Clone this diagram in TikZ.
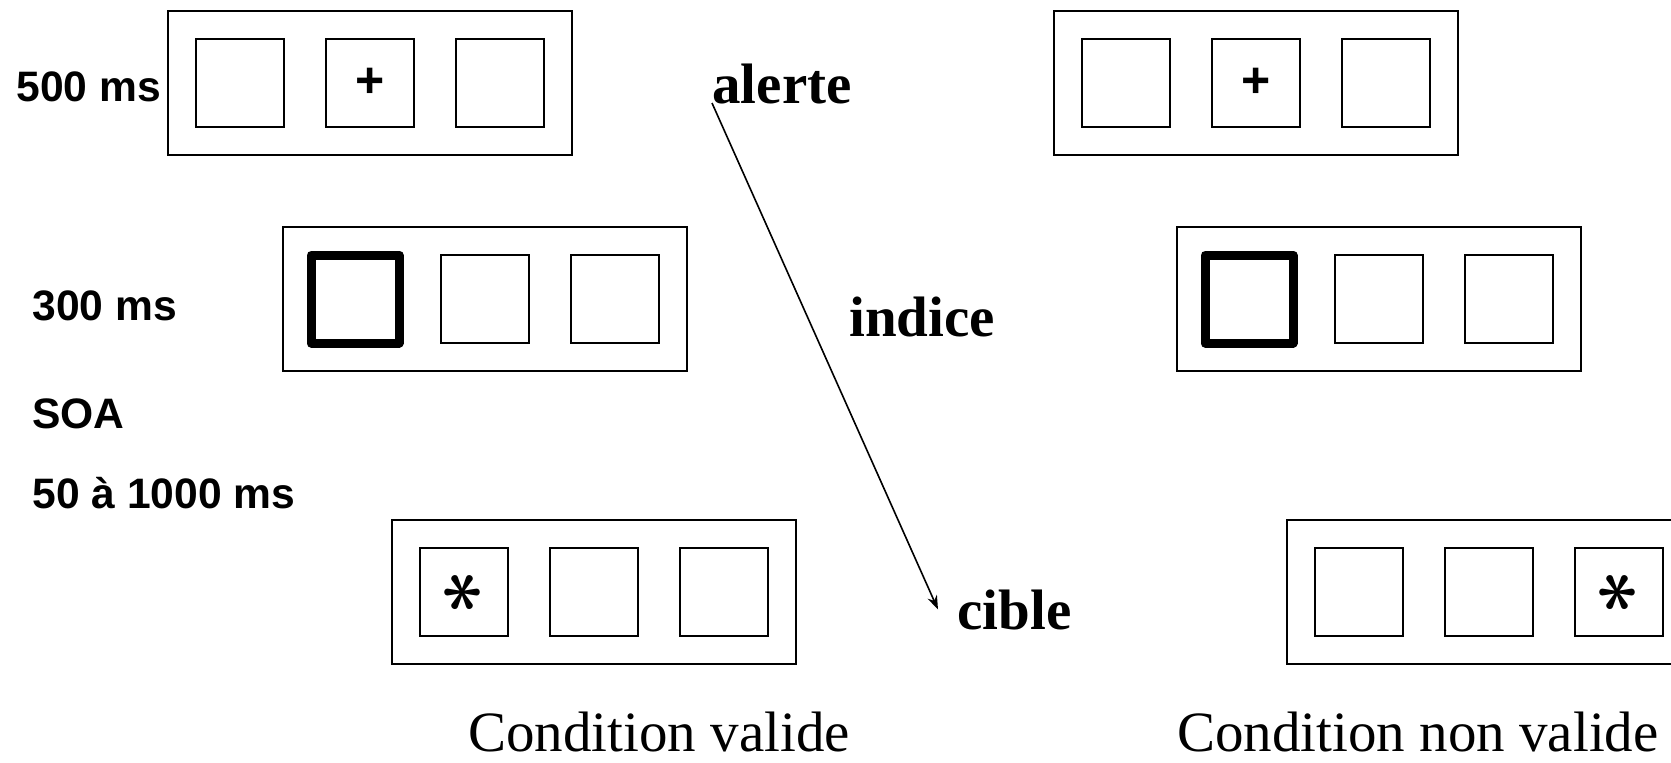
\documentclass[tikz,border=0pt]{standalone}
\usepackage{fontspec}
\setmainfont{Liberation Serif}
\newfontfamily\arialfont{Liberation Sans}
\usepackage{graphicx}
\usetikzlibrary{arrows.meta}

\begin{document}
\begin{tikzpicture}[x=0.5pt,y=-0.5pt,
  frame/.style={draw,line width=1.1pt,minimum width=202pt,minimum height=72pt,inner sep=0pt},
  cell/.style={draw,line width=1.1pt,minimum size=44pt,inner sep=0pt},
  cue/.style={cell,line width=4.5pt,line join=round},
  timelbl/.style={font=\arialfont\bfseries\fontsize{21.3}{25}\selectfont,anchor=base west,inner sep=0pt},
  eventlbl/.style={font=\bfseries\fontsize{28.5}{34}\selectfont,anchor=base west,inner sep=0pt},
  condlbl/.style={font=\fontsize{28.5}{34}\selectfont,anchor=base,inner sep=0pt},
  fixlbl/.style={font=\arialfont\bfseries\fontsize{25}{25}\selectfont,inner sep=0pt}]
  \useasboundingbox (0,0) rectangle (1671,762);
  \clip (0,0) rectangle (1671,762);
  \fill[white] (0,0) rectangle (1671,762);

  % screens: a = valid, b = non valid
  \foreach \f/\x/\y/\s in {a1/370/83/cell,a2/485/299/cue,a3/594/592/cell,
                           b1/1256/83/cell,b2/1379/299/cue,b3/1489/592/cell}{
    \node[frame] (\f) at (\x,\y) {};
    \node[\s] (\f l) at (\x-130,\y) {};
    \node[cell] (\f m) at (\x,\y) {};
    \node[cell] (\f r) at (\x+130,\y) {};
  }

  % fixation and target
  \node[fixlbl] (fixa) at (a1m) {+};
  \node[fixlbl] (fixb) at (b1m) {+};
  \node[rotate=90,inner sep=0pt] (stara) at (a3l) {\scalebox{4}{\boldmath$\ast$}};
  \node[rotate=90,inner sep=0pt] (starb) at (b3r) {\scalebox{4}{\boldmath$\ast$}};

  % durations
  \node[timelbl] (t500) at (16,101) {500 ms};
  \node[timelbl] (t300) at (32,320) {300 ms};
  \node[timelbl] (soa) at (32,428) {SOA};
  \node[timelbl] (soarange) at (32,508) {50 à 1000 ms};

  % events
  \node[eventlbl] (alerte) at (712,103) {alerte};
  \node[eventlbl] (indice) at (849,336) {indice};
  \node[eventlbl] (cible) at (957,629) {cible};
  \draw[line width=0.8pt,-{Stealth[length=7pt,width=5pt]}] (alerte.base west) -- ([xshift=-9.5pt]cible.west);

  % conditions
  \node[condlbl] (valide) at (659,751) {Condition valide};
  \node[condlbl] (nonvalide) at (1418,751) {Condition non valide};
\end{tikzpicture}
\end{document}
